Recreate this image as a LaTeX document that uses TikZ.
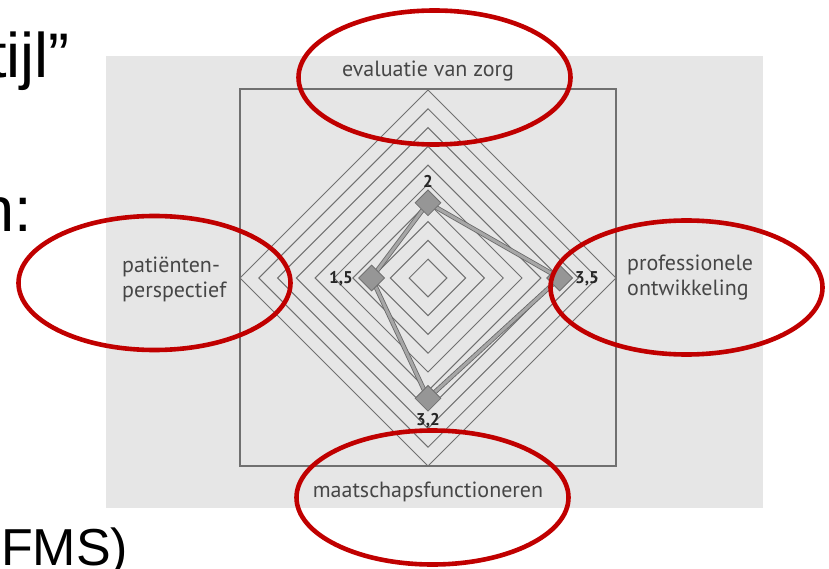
\documentclass[tikz,border=0pt]{standalone}
\usepackage{fontspec}
\setmainfont{Liberation Sans}
\newfontfamily\axisfont{PT Sans}
\usetikzlibrary{shapes.geometric, positioning, calc}
\definecolor{panelgray}{RGB}{230,230,230}
\definecolor{gridgray}{RGB}{112,112,112}
\definecolor{markgray}{RGB}{150,150,150}
\definecolor{labelgray}{RGB}{70,70,70}
\definecolor{circlered}{RGB}{192,0,0}

\begin{document}
\begin{tikzpicture}[x=1pt, y=-1pt,
  axislabel/.style={font=\axisfont\fontsize{22}{25}\selectfont, text=labelgray, inner sep=0pt, align=left},
  scorelabel/.style={font=\axisfont\bfseries\fontsize{17}{17}\selectfont, text=black!85, inner sep=0pt},
  scoremark/.style={diamond, draw=gridgray, fill=markgray, line width=0.8pt, minimum size=26pt, inner sep=0pt},
  scoreline/.style={draw=gray!80!black, double=gray!70, double distance=3pt, line width=0.8pt, line join=round},
  redring/.style={draw=circlered, line width=4.6pt},
  slidetext/.style={inner sep=0pt, anchor=base west}]
\useasboundingbox (0,0) rectangle (829,569);
\fill[panelgray] (106,56) rectangle (763,508);
\draw[gridgray, line width=1.6pt] (240,89) rectangle (616,466);
\foreach \i in {1,...,10} {
    \pgfmathsetmacro{\hd}{18.8*\i}
    \draw[gridgray, line width=1pt] (428,{278-\hd}) -- ({428+\hd},278) -- (428,{278+\hd}) -- ({428-\hd},278) -- cycle;
}
\coordinate (zorg) at (428,{278-2*37.6});
\coordinate (prof) at ({428+3.5*37.6},278);
\coordinate (maat) at (428,{278+3.2*37.6});
\coordinate (pat) at ({428-1.5*37.6},278);
\draw[scoreline] (zorg) -- (prof) -- (maat) -- (pat) -- cycle;
\node[scoremark] (zorgmark) at (zorg) {};
\node[scoremark] (profmark) at (prof) {};
\node[scoremark] (maatmark) at (maat) {};
\node[scoremark] (patmark) at (pat) {};
\node[scorelabel] (zorgscore) at (428,181) {2};
\node[scorelabel, anchor=east] (patscore) at (353,279) {1,5};
\node[scorelabel, anchor=west] (profscore) at (575,279) {3,5};
\node[scorelabel] (maatscore) at (428,421) {3,2};
\node[axislabel, anchor=base] (zorglabel) at (428,77) {evaluatie van zorg};
\node[axislabel, anchor=base] (maatlabel) at (428,497) {maatschapsfunctioneren};
\node[axislabel, anchor=base west] (patlabel) at (122,297) {patiënten-\\perspectief};
\node[axislabel, anchor=base west] (proflabel) at (627,295) {professionele\\ontwikkeling};
\node[slidetext, font=\fontsize{63}{63}\selectfont] (titel) at (-11,78) {tijl”};
\node[slidetext, font=\fontsize{63}{63}\selectfont] (regel) at (-21,232) {n:};
\node[slidetext, font=\fontsize{52}{52}\selectfont] (fms) at (1,565) {FMS)};
\draw[redring] (434.5,77.5) ellipse [x radius=136, y radius=67];
\draw[redring] (432.5,497.5) ellipse [x radius=136, y radius=67];
\draw[redring] (154.5,283) ellipse [x radius=136, y radius=67];
\draw[redring] (686.5,287.5) ellipse [x radius=136, y radius=67];
\end{tikzpicture}
\end{document}
